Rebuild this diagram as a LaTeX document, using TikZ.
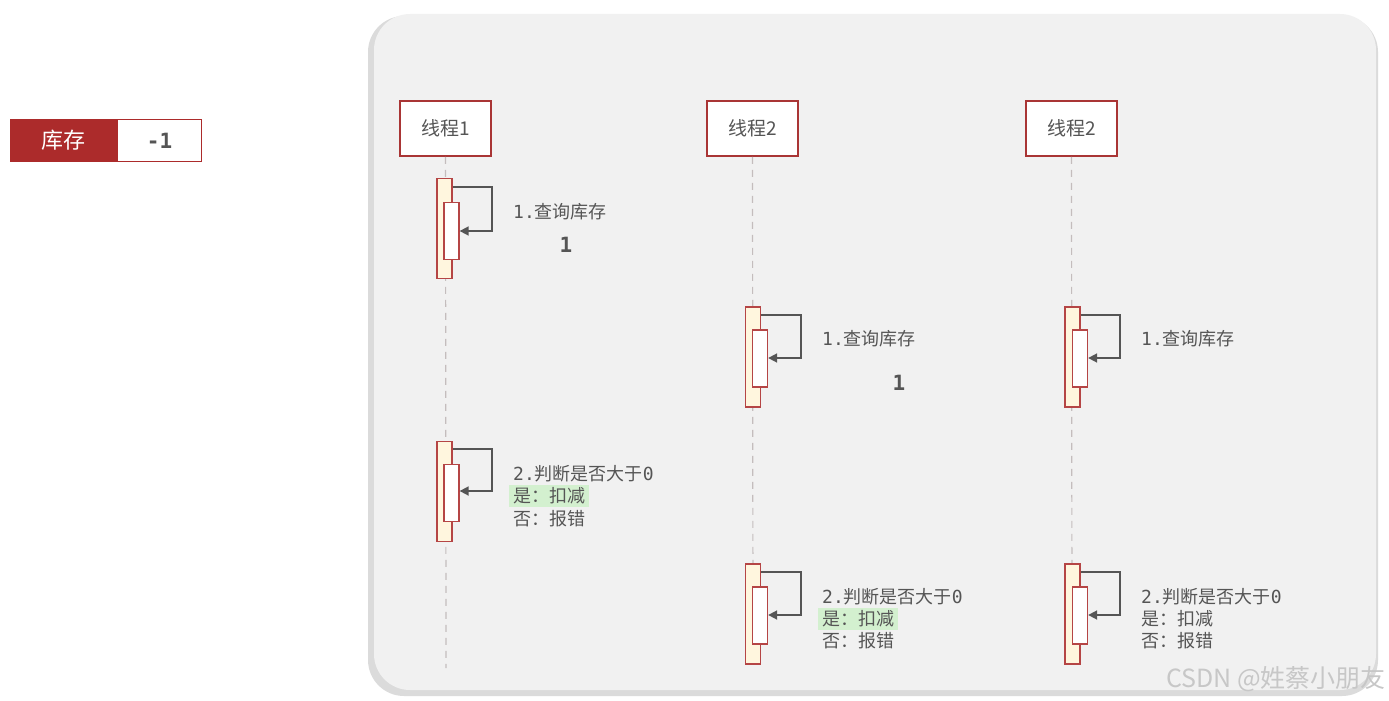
\documentclass[tikz,border=0pt]{standalone}
\usepackage{fontspec}
\setmainfont{Noto Sans CJK SC}
\newfontfamily\cjk{Noto Sans CJK SC}
\newfontfamily\monof{DejaVu Sans Mono}
\usetikzlibrary{arrows.meta}
\definecolor{panel}{HTML}{F1F1F1}
\definecolor{boxred}{HTML}{A93535}
\definecolor{darkred}{HTML}{AC2B2B}
\definecolor{actfill}{HTML}{FFF6DE}
\definecolor{actline}{HTML}{B54545}
\definecolor{txt}{HTML}{555555}
\definecolor{arr}{HTML}{555555}
\definecolor{life}{HTML}{C4BDBD}
\definecolor{hl}{HTML}{D3F0CF}
\tikzset{
  thread/.style={draw=boxred, line width=1.5pt, fill=white, minimum width=91pt, minimum height=55pt, inner sep=0pt, font=\fontsize{19}{20}\selectfont\cjk, text=txt},
  outeract/.style={draw=actline, line width=1.3pt, fill=actfill, minimum width=15pt, minimum height=100pt, inner sep=0pt},
  inneract/.style={draw=actline, line width=1.3pt, fill=white, minimum width=15pt, minimum height=57pt, inner sep=0pt},
  selfarr/.style={draw=arr, line width=1.7pt, -{Triangle[length=9pt,width=9pt]}},
  lifeline/.style={draw=life, line width=1.2pt, dash pattern=on 7pt off 6pt},
  msg/.style={anchor=west, inner sep=0pt, text=txt, font=\fontsize{18}{20}\selectfont},
  hlmsg/.style={anchor=west, inner xsep=4pt, inner ysep=3pt, fill=hl, text=txt, font=\fontsize{18}{20}\selectfont},
  val/.style={inner sep=0pt, text=txt, font=\fontsize{21}{22}\selectfont\monof\bfseries}
}
\begin{document}
\begin{tikzpicture}[x=1pt,y=-1pt]
\useasboundingbox (0,0) rectangle (1389,701);
% stock box
\node[draw=darkred, line width=1.5pt, fill=darkred, minimum width=105pt, minimum height=42pt, inner sep=0pt, text=white, font=\fontsize{22}{24}\selectfont\cjk] (kc) at (63.5,140.5) {库存};
\node[draw=darkred, line width=1.5pt, fill=white, minimum width=84pt, minimum height=42pt, inner sep=0pt, text=txt, font=\fontsize{21}{22}\selectfont\monof\bfseries, anchor=west] (kv) at (kc.east) {-1};
% panel shadow and panel
\fill[black!22, rounded corners=36pt] (370,18) rectangle (1376,694);
\fill[black!14, rounded corners=36pt] (368,16) rectangle (1378,696);
\fill[panel, rounded corners=36pt] (374,14) rectangle (1376,690);
% threads
\node[thread] (t1) at (445.5,128.5) {线程1};
\node[thread] (t2) at (752.5,128.5) {线程2};
\node[thread] (t3) at (1071.5,128.5) {线程2};
\coordinate (e1) at (446,668);
\coordinate (e2) at (753,664);
\coordinate (e3) at (1072,664);
\draw[lifeline] (t1.south) -- (e1);
\draw[lifeline] (t2.south) -- (e2);
\draw[lifeline] (t3.south) -- (e3);
% activations thread 1
\node[outeract] (a1o) at (444.5,228.5) {};
\node[inneract] (a1i) at (451.5,231) {};
\node[outeract] (b1o) at (444.5,491.5) {};
\node[inneract] (b1i) at (451.5,493) {};
% thread 2
\node[outeract] (a2o) at (753,357) {};
\node[inneract] (a2i) at (760,358.5) {};
\node[outeract] (b2o) at (753,614) {};
\node[inneract] (b2i) at (760,615.5) {};
% thread 3
\node[outeract] (a3o) at (1072.5,357) {};
\node[inneract] (a3i) at (1080,358.5) {};
\node[outeract] (b3o) at (1072.5,614) {};
\node[inneract] (b3i) at (1080,615.5) {};
% self arrows
\draw[selfarr] (a1o.east |- 0,187) -| (492,231) -- (a1i.east |- 0,231);
\draw[selfarr] (b1o.east |- 0,449) -| (492,491) -- (b1i.east |- 0,491);
\draw[selfarr] (a2o.east |- 0,315) -| (801,358) -- (a2i.east |- 0,358);
\draw[selfarr] (b2o.east |- 0,572) -| (801,615) -- (b2i.east |- 0,615);
\draw[selfarr] (a3o.east |- 0,315) -| (1120,358) -- (a3i.east |- 0,358);
\draw[selfarr] (b3o.east |- 0,572) -| (1120,615) -- (b3i.east |- 0,615);
% labels thread 1
\node[msg] (m11) at (513,212) {{\monof 1.}查询库存};
\node[val] (v1) at (566,245) {1};
\node[msg] (m12) at (513,474) {{\monof 2.}判断是否大于{\monof 0}};
\node[hlmsg] (m13) at (509,496) {是：扣减};
\node[msg] (m14) at (513,519) {否：报错};
% labels thread 2
\node[msg] (m21) at (822,339) {{\monof 1.}查询库存};
\node[val] (v2) at (899,383) {1};
\node[msg] (m22) at (822,597) {{\monof 2.}判断是否大于{\monof 0}};
\node[hlmsg] (m23) at (818,619) {是：扣减};
\node[msg] (m24) at (822,641) {否：报错};
% labels thread 3
\node[msg] (m31) at (1141,339) {{\monof 1.}查询库存};
\node[msg] (m32) at (1141,597) {{\monof 2.}判断是否大于{\monof 0}};
\node[msg] (m33) at (1141,619) {是：扣减};
\node[msg] (m34) at (1141,641) {否：报错};
% watermark
\node[anchor=east, inner sep=0pt, text=black!22, font=\fontsize{25}{26}\selectfont\cjk] (wm) at (1386,679) {CSDN @姓蔡小朋友};
\end{tikzpicture}
\end{document}
